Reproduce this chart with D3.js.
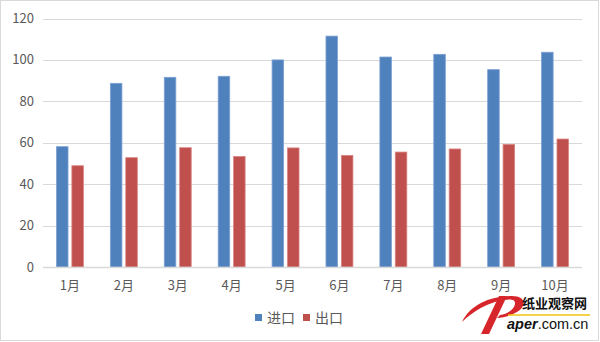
<!DOCTYPE html>
<meta charset="utf-8">
<head>
    <title>进口 出口</title>
    <style>
        html, body { margin: 0; padding: 0; background: #fff; }
        body { font-family: "Noto Sans CJK SC", "Open Sans", sans-serif; }
        .grid line { stroke: #d9d9d9; stroke-width: 1; }
        .axis text { fill: #595959; font-size: 13px; }
        .legend text { fill: #595959; font-size: 14px; }
    </style>
</head>
<body>
    <svg id="chart" width="600" height="342"></svg>
    <script src="https://cdn.jsdelivr.net/npm/d3@7"></script>
    <script>
        const months = ['1月', '2月', '3月', '4月', '5月', '6月', '7月', '8月', '9月', '10月'];
        const seriesNames = ['进口', '出口'];
        const imports = [58.1, 88.7, 91.6, 92.1, 100.0, 111.5, 101.4, 102.7, 95.3, 103.7];
        const exports = [48.9, 52.8, 57.6, 53.4, 57.5, 53.9, 55.5, 57.0, 59.2, 61.8];
        const yTicks = [0, 20, 40, 60, 80, 100, 120];
        const colors = ['#4f81bd', '#c0504d'];
        const strokes = ['#7da1d4', '#d98583'];

        const rows = months.map((m, i) => ({ month: m, values: [imports[i], exports[i]] }));

        const svg = d3.select('#chart');
        const margin = { left: 43, right: 18, top: 18.5, bottom: 75 };
        const W = 600, H = 342;

        // outer frame
        svg.append('rect')
            .attr('x', 0.5).attr('y', 0.5)
            .attr('width', W - 2).attr('height', H - 2)
            .attr('fill', '#fff')
            .attr('stroke', '#d9d9d9');

        const x0 = d3.scaleBand()
            .domain(months)
            .range([margin.left, W - margin.right])
            .paddingInner(0.5)
            .paddingOuter(0.25);

        const x1 = d3.scaleBand()
            .domain(seriesNames)
            .range([0, x0.bandwidth()])
            .paddingInner(0.25);

        const y = d3.scaleLinear()
            .domain([0, 120])
            .range([H - margin.bottom, margin.top]);

        // grid lines
        svg.append('g').attr('class', 'grid')
            .selectAll('line')
            .data(yTicks)
            .join('line')
            .attr('x1', margin.left)
            .attr('x2', W - margin.right)
            .attr('y1', d => Math.round(y(d)) + 0.5)
            .attr('y2', d => Math.round(y(d)) + 0.5);

        // y labels
        svg.append('g').attr('class', 'axis')
            .selectAll('text')
            .data(yTicks)
            .join('text')
            .attr('x', 34)
            .attr('y', d => y(d))
            .attr('dy', '0.35em')
            .attr('text-anchor', 'end')
            .text(d => d);

        // bars
        const groups = svg.append('g')
            .selectAll('g')
            .data(rows)
            .join('g')
            .attr('transform', d => 'translate(' + x0(d.month) + ',0)');

        groups.selectAll('rect')
            .data(d => d.values.map((v, i) => ({ key: seriesNames[i], value: v, i: i })))
            .join('rect')
            .attr('x', d => x1(d.key))
            .attr('y', d => y(d.value))
            .attr('width', x1.bandwidth())
            .attr('height', d => y(0) - y(d.value))
            .attr('fill', d => colors[d.i])
            .attr('stroke', d => strokes[d.i])
            .attr('stroke-width', 0.8);

        // x axis line
        svg.append('line')
            .attr('x1', margin.left)
            .attr('x2', W - margin.right)
            .attr('y1', Math.round(y(0)) + 0.5)
            .attr('y2', Math.round(y(0)) + 0.5)
            .attr('stroke', '#d9d9d9')
            .attr('stroke-width', 1.5);

        // x labels
        svg.append('g').attr('class', 'axis')
            .selectAll('text')
            .data(months)
            .join('text')
            .attr('x', d => x0(d) + x0.bandwidth() / 2)
            .attr('y', 285)
            .attr('dy', '0.35em')
            .attr('text-anchor', 'middle')
            .text(d => d);

        // legend
        const legend = svg.append('g').attr('class', 'legend')
            .selectAll('g')
            .data(seriesNames)
            .join('g')
            .attr('transform', (d, i) => 'translate(' + (255 + i * 48) + ',318)');

        legend.append('rect')
            .attr('x', 0).attr('y', -4)
            .attr('width', 7).attr('height', 7)
            .attr('fill', (d, i) => colors[i]);

        legend.append('text')
            .attr('x', 12)
            .attr('dy', '0.35em')
            .text(d => d);

        // watermark logo
        const wm = svg.append('g');
        wm.append('path')
            .attr('d', 'M462,322 C470,305 490,296 512,296 C526,296 527,306 517,312 C510,316 503,318 497,318 L500,315 C508,314 515,309 515,303 C515,299 510,299 504,300 C488,302 472,312 462,322 Z')
            .attr('fill', '#d7262b');
        wm.append('path')
            .attr('d', 'M499,296 L507,296 L489,334 L481,334 Z')
            .attr('fill', '#d7262b');
        wm.append('line')
            .attr('x1', 508).attr('x2', 590)
            .attr('y1', 315).attr('y2', 315)
            .attr('stroke', '#f2c30f').attr('stroke-width', 1.5);
        wm.append('text')
            .attr('x', 522).attr('y', 303)
            .attr('dy', '0.35em')
            .attr('font-size', 13).attr('font-weight', 'bold')
            .attr('fill', '#111')
            .text('纸业观察网');
        const t2 = wm.append('text')
            .attr('x', 507).attr('y', 324)
            .attr('dy', '0.35em')
            .attr('font-family', 'Liberation Sans, Arial, sans-serif')
            .attr('font-size', 14.5)
            .attr('fill', '#111');
        t2.append('tspan').attr('font-weight', 'bold').attr('font-style', 'italic').text('aper');
        t2.append('tspan').text('.com.cn');
    </script>
</body>
</html>
